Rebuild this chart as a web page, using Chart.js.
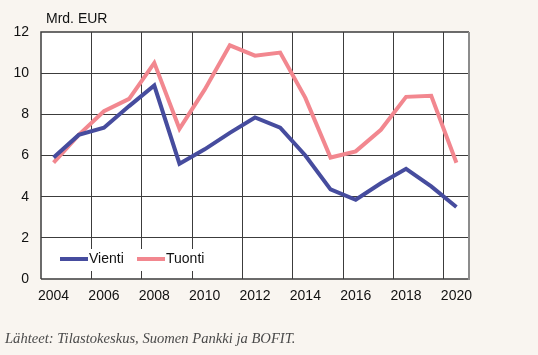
<!DOCTYPE html>
<html>
<head>
<meta charset="utf-8">
<script src="https://cdn.jsdelivr.net/npm/chart.js@4.4.1/dist/chart.umd.min.js"></script>
<style>
  html, body { margin: 0; padding: 0; background: #f9f5f0; }
  #wrap { position: relative; width: 538px; height: 355px; }
  #source {
    position: absolute; left: 5px; top: 330px;
    font: italic 14.6px "Liberation Serif", serif; color: #4a4a4a;
    white-space: nowrap;
  }
</style>
</head>
<body>
<div id="wrap">
  <canvas id="c" width="538" height="355"></canvas>
  <div id="source">Lähteet: Tilastokeskus, Suomen Pankki ja BOFIT.</div>
</div>
<script>
// --- data (Mrd. EUR) ---
const years = ['2004', '2005', '2006', '2007', '2008', '2009', '2010', '2011', '2012',
  '2013', '2014', '2015', '2016', '2017', '2018', '2019', '2020'];
const vienti = [5.9, 7.0, 7.35, 8.4, 9.4, 5.6, 6.3, 7.1, 7.85, 7.35, 6.0, 4.35, 3.85, 4.65, 5.35, 4.5, 3.5];
const tuonti = [5.65, 7.0, 8.15, 8.75, 10.5, 7.3, 9.2, 11.35, 10.85, 11.0, 8.8, 5.9, 6.2, 7.25, 8.85, 8.9, 5.65];
const yTicks = [0, 2, 4, 6, 8, 10, 12];

const BLUE = '#464c9e';
const PINK = '#f2878f';
const GRID = '#3c3c3c';
const FONT = '"Liberation Sans", Arial, sans-serif';

// White plot area, frame, unit label and in-plot legend
const decorPlugin = {
  id: 'decor',
  beforeDraw(chart) {
    const { ctx, chartArea: a } = chart;
    ctx.save();
    ctx.fillStyle = '#fff';
    ctx.fillRect(a.left, a.top, a.right - a.left, a.bottom - a.top);
    ctx.restore();
  },
  beforeDatasetsDraw(chart) {
    const { ctx, chartArea: a } = chart;
    ctx.save();
    ctx.strokeStyle = GRID;
    ctx.lineWidth = 1.5;
    ctx.beginPath();
    ctx.moveTo(a.left, a.bottom);
    ctx.lineTo(a.left, a.top);
    ctx.lineTo(a.right, a.top);
    ctx.moveTo(a.left, a.bottom);
    ctx.lineTo(a.right, a.bottom);
    ctx.stroke();
    ctx.strokeStyle = '#8c8c8c';
    ctx.lineWidth = 2;
    ctx.beginPath();
    ctx.moveTo(a.right, a.top);
    ctx.lineTo(a.right, a.bottom + 1);
    ctx.stroke();
    ctx.restore();
  },
  afterDraw(chart) {
    const { ctx, chartArea: a } = chart;
    ctx.save();
    ctx.fillStyle = '#111';
    ctx.font = '14px ' + FONT;
    ctx.textBaseline = 'alphabetic';
    ctx.fillText('Mrd. EUR', a.left + 5, 23);

    // legend box
    const y = a.bottom - 20;
    ctx.fillStyle = '#fff';
    ctx.fillRect(a.left + 14, y - 10, 160, 22);
    const items = [
      { text: 'Vienti', color: BLUE, x: a.left + 19 },
      { text: 'Tuonti', color: PINK, x: a.left + 96 },
    ];
    items.forEach((it) => {
      ctx.strokeStyle = it.color;
      ctx.lineWidth = 4;
      ctx.beginPath();
      ctx.moveTo(it.x, y);
      ctx.lineTo(it.x + 28, y);
      ctx.stroke();
      ctx.fillStyle = '#111';
      ctx.textBaseline = 'middle';
      ctx.fillText(it.text, it.x + 29, y);
    });
    ctx.restore();
  },
};

const chart = new Chart(document.getElementById('c'), {
  type: 'line',
  data: {
    labels: years,
    datasets: [
      { label: 'Vienti', data: vienti, borderColor: BLUE, borderWidth: 4 },
      { label: 'Tuonti', data: tuonti, borderColor: PINK, borderWidth: 4 },
    ],
  },
  plugins: [decorPlugin],
  options: {
    responsive: false,
    animation: false,
    layout: { padding: { top: 32, right: 69, left: 0, bottom: 0 } },
    elements: { point: { radius: 0 }, line: { tension: 0, borderCapStyle: 'butt' } },
    plugins: { legend: { display: false }, tooltip: { enabled: false } },
    scales: {
      x: {
        type: 'category',
        offset: true,
        afterFit(s) { s.height = 76; },
        border: { display: false },
        grid: {
          offset: true,
          drawTicks: false,
          lineWidth: 1,
          color: (c) => (c.index !== undefined && c.index % 2 === 0 && c.index > 0 ? GRID : 'transparent'),
        },
        ticks: {
          autoSkip: false,
          maxRotation: 0,
          padding: 9,
          color: '#111',
          font: { family: FONT, size: 14 },
          callback: (v, i) => (i % 2 === 0 ? years[i] : ''),
        },
      },
      y: {
        min: 0,
        max: 12,
        afterFit(s) { s.width = 41; },
        afterBuildTicks(s) { s.ticks = yTicks.map((v) => ({ value: v })); },
        border: { display: false },
        grid: {
          drawTicks: false,
          lineWidth: 1,
          color: (c) => (c.tick && c.tick.value > 0 && c.tick.value < 12 ? GRID : 'transparent'),
        },
        ticks: {
          padding: 12,
          color: '#111',
          font: { family: FONT, size: 14 },
        },
      },
    },
  },
});
</script>
</body>
</html>
